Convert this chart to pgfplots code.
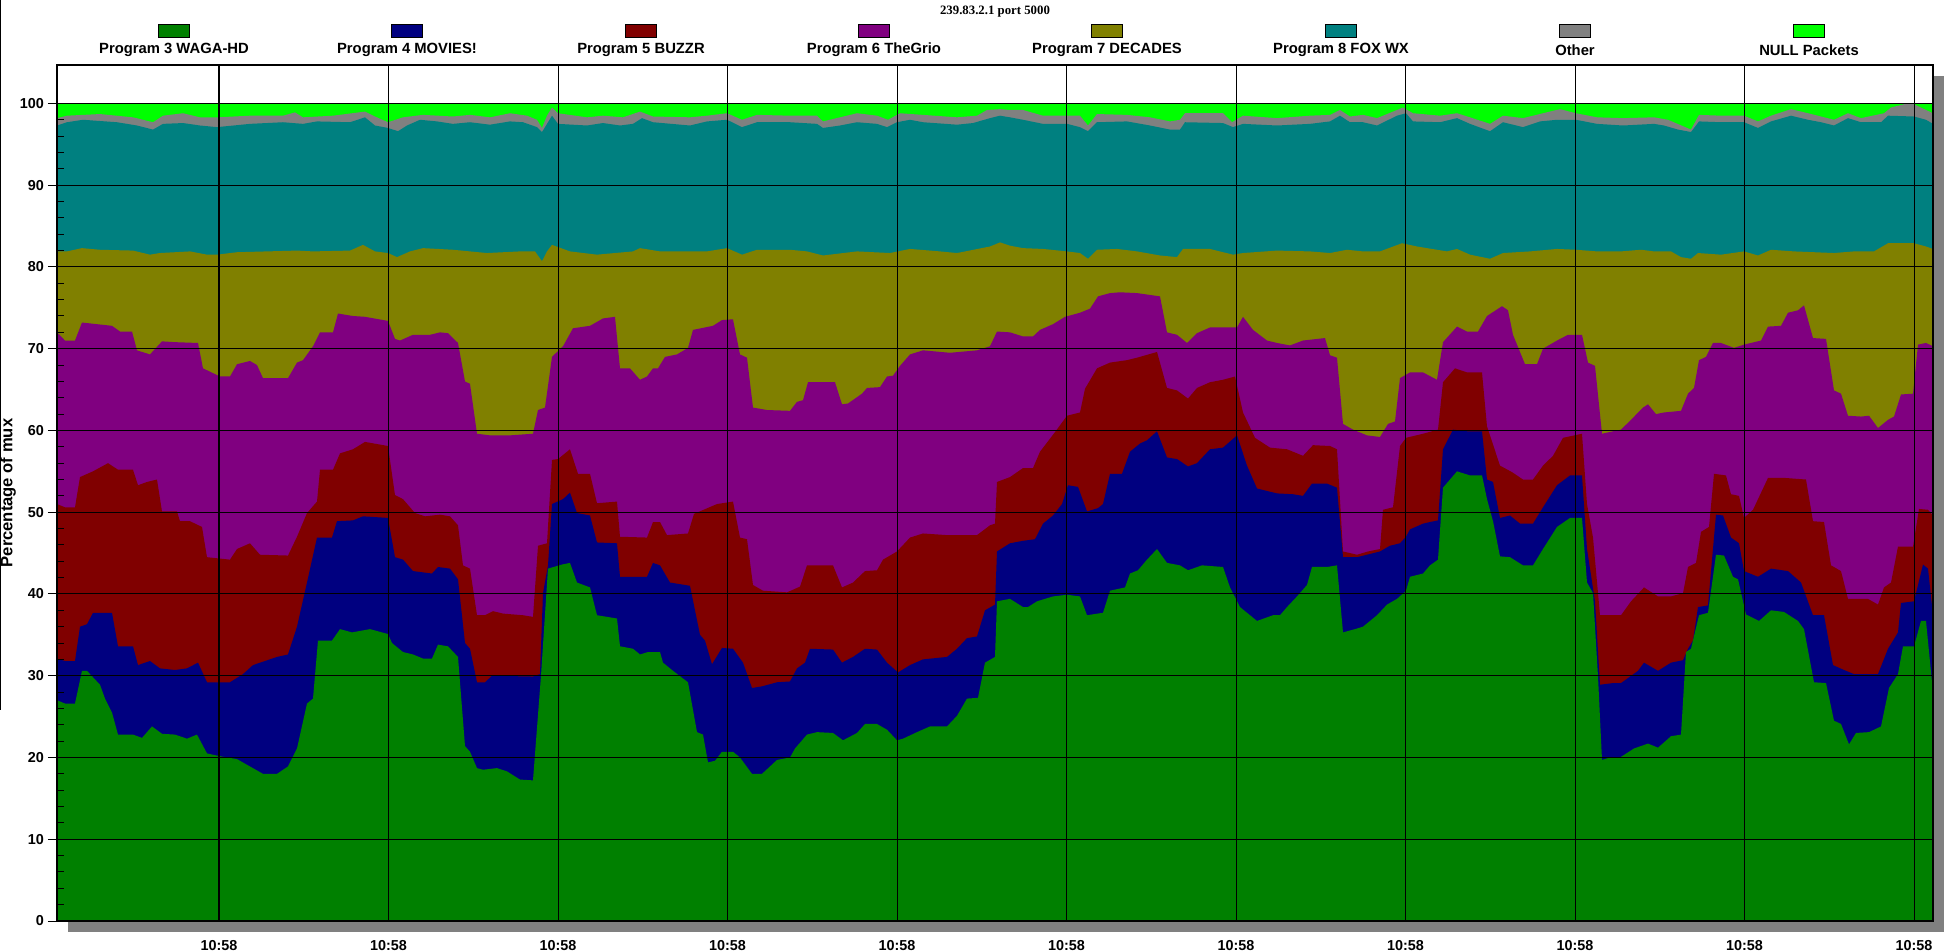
\documentclass[border=0pt]{standalone}
\usepackage{pgfplots}
\pgfplotsset{compat=1.18}
\usepackage{fontspec}
\setmainfont{Liberation Sans}
\newfontfamily\timesfont{Liberation Serif}
\definecolor{cGreen}{HTML}{008000}
\definecolor{cNavy}{HTML}{000080}
\definecolor{cMaroon}{HTML}{800000}
\definecolor{cPurple}{HTML}{800080}
\definecolor{cOlive}{HTML}{808000}
\definecolor{cTeal}{HTML}{008080}
\definecolor{cGrey}{HTML}{808080}
\definecolor{cLime}{HTML}{00FF00}
\begin{document}
\begin{tikzpicture}
\useasboundingbox (0pt,0pt) rectangle (975.5pt,475pt);
% window edge
\draw[black, line width=0.7pt] (0.4pt,475pt) -- (0.4pt,120pt);
% drop shadow of the plot area
\fill[cGrey] (34pt,9pt) rectangle (972pt,437pt);
\begin{axis}[
  at={(28.5pt,14.5pt)}, anchor=south west,
  scale only axis, width=938pt, height=428pt,
  xmin=57, xmax=1933, ymin=0, ymax=104.7,
  axis background/.style={fill=white},
  axis on top,
  axis line style={black, line width=0.8pt},
  xtick={219,388.5,558,727.5,897,1066.5,1236,1405.5,1575,1744.5,1914},
  xticklabels={10:58,10:58,10:58,10:58,10:58,10:58,10:58,10:58,10:58,10:58,10:58},
  ytick={0,10,...,100},
  minor y tick num=4,
  grid=major,
  major grid style={black, line width=0.5pt},
  tick pos=left,
  tick align=outside,
  major tick length=4.5pt,
  minor tick length=3.5pt,
  x tick style={draw=none},
  y tick style={black, line width=0.5pt},
  every minor tick/.append style={xshift=3.5pt},
  /pgf/number format/assume math mode=true,
  ticklabel style={font=\bfseries\fontsize{7.2}{8}\selectfont},
  xticklabel style={yshift=-1.5pt},
  yticklabel style={xshift=1.5pt},
  ylabel={Percentage of mux},
  every axis y label/.style={at={(axis description cs:0,0.5)}, xshift=-24.5pt, rotate=90, anchor=center, font=\bfseries\fontsize{8.3}{9}\selectfont},
]
% NULL Packets (top of stack = 100)
\addplot[fill=cLime, draw=none] coordinates {(57,100) (1933,100)} \closedcycle;
% Other (cumulative top)
\addplot[fill=cGrey, draw=none] coordinates {(57,98.2) (67,98.5) (100,98.7) (133,98.3) (153,97.7) (163,98.5) (183,98.8) (200,98.3) (217,98.3) (250,98.5) (283,98.5) (295,98.9) (303,98.3) (333,98.5) (365,99.0) (375,98.4) (388,97.7) (403,98.3) (423,98.6) (453,98.4) (470,98.6) (490,98.3) (510,98.8) (527,98.5) (537,98.0) (542,97.0) (547,98.5) (552,99.5) (558,98.8) (587,98.3) (603,98.5) (623,98.3) (640,99.0) (653,98.4) (690,98.3) (707,98.5) (727,98.8) (742,98.0) (757,98.6) (790,98.5) (817,98.5) (823,97.8) (840,98.3) (857,98.8) (877,98.5) (888,98.0) (900,98.8) (923,98.6) (957,98.3) (977,98.5) (987,99.2) (1000,99.3) (1010,99.2) (1023,99.2) (1043,98.5) (1080,98.5) (1088,97.3) (1097,98.7) (1127,98.6) (1150,98.3) (1170,97.8) (1180,98.0) (1185,98.8) (1223,98.8) (1232,97.7) (1243,98.5) (1277,98.2) (1310,98.5) (1330,98.6) (1340,99.2) (1350,98.4) (1363,98.6) (1377,98.2) (1397,99.2) (1403,99.5) (1413,98.8) (1440,98.5) (1457,98.8) (1470,98.3) (1490,97.5) (1503,98.5) (1523,98.2) (1543,98.8) (1560,99.3) (1576,98.8) (1597,98.3) (1623,98.2) (1654,98.3) (1668,98.0) (1691,96.8) (1699,98.6) (1721,98.5) (1744,98.5) (1758,97.8) (1771,98.5) (1791,99.3) (1808,98.8) (1834,98.0) (1848,98.8) (1861,98.2) (1884,98.8) (1891,99.5) (1904,99.9) (1914,99.9) (1926,99.2) (1933,98.8)} \closedcycle;
% Program 8 FOX WX (cumulative top)
\addplot[fill=cTeal, draw=none] coordinates {(57,97.3) (67,97.7) (83,98.0) (117,97.7) (137,97.3) (153,96.8) (163,97.5) (183,97.6) (200,97.3) (217,97.1) (250,97.5) (283,97.7) (303,97.5) (317,97.8) (350,97.7) (365,98.3) (375,97.3) (388,97.0) (398,96.6) (407,97.3) (420,98.0) (437,97.8) (453,97.5) (470,97.7) (490,97.4) (510,97.8) (523,97.7) (537,97.1) (542,96.5) (547,97.5) (552,98.5) (558,97.5) (587,97.3) (603,97.6) (620,97.3) (633,97.5) (642,98.2) (653,97.7) (690,97.3) (707,97.8) (727,98.0) (742,97.1) (757,97.7) (790,97.7) (817,97.5) (823,97.0) (840,97.3) (857,97.7) (877,97.5) (887,97.1) (897,97.7) (910,98.0) (923,97.7) (957,97.4) (973,97.6) (990,98.2) (1000,98.5) (1010,98.3) (1023,98.0) (1043,97.5) (1067,97.5) (1080,97.1) (1088,96.6) (1097,97.7) (1127,97.8) (1150,97.3) (1170,96.8) (1180,96.8) (1185,97.7) (1223,97.6) (1233,97.1) (1243,97.5) (1277,97.3) (1310,97.5) (1330,97.8) (1340,98.5) (1350,97.7) (1363,97.7) (1377,97.3) (1397,98.5) (1406,98.8) (1413,97.8) (1440,97.7) (1457,98.2) (1470,97.5) (1490,96.6) (1503,97.7) (1523,97.1) (1540,97.8) (1557,98.0) (1576,98.0) (1597,97.5) (1623,97.3) (1654,97.5) (1664,97.3) (1678,96.8) (1691,96.5) (1699,97.8) (1721,97.7) (1744,97.7) (1758,97.0) (1771,97.8) (1791,98.5) (1808,98.0) (1821,97.7) (1834,97.3) (1848,98.2) (1861,97.7) (1881,97.7) (1888,98.5) (1914,98.4) (1926,98.0) (1933,97.5)} \closedcycle;
% Program 7 DECADES (cumulative top)
\addplot[fill=cOlive, draw=none] coordinates {(57,81.9) (67,81.9) (82,82.3) (100,82.1) (133,82.0) (150,81.5) (160,81.7) (190,81.9) (207,81.5) (217,81.5) (237,81.8) (297,82.0) (313,81.9) (350,82.0) (363,82.7) (375,81.9) (388,81.7) (397,81.2) (410,81.9) (423,82.3) (453,82.1) (487,81.7) (520,81.9) (535,81.9) (542,80.7) (547,81.9) (552,82.7) (570,81.9) (597,81.5) (633,81.9) (640,82.3) (660,81.9) (707,81.9) (727,82.3) (742,81.5) (757,82.1) (790,82.1) (807,81.9) (823,81.4) (857,81.9) (890,81.7) (910,82.2) (940,81.9) (957,81.7) (990,82.5) (1000,83.0) (1010,82.6) (1023,82.3) (1043,82.2) (1067,81.9) (1080,81.7) (1088,81.0) (1097,82.1) (1117,82.2) (1137,81.9) (1160,81.4) (1177,81.2) (1183,82.2) (1210,82.2) (1233,81.5) (1243,81.7) (1277,82.0) (1310,81.9) (1330,81.7) (1347,82.1) (1363,81.9) (1380,81.9) (1402,82.9) (1417,82.5) (1447,81.9) (1457,82.2) (1470,81.5) (1490,81.0) (1503,81.7) (1530,81.9) (1557,82.2) (1576,82.1) (1597,81.9) (1621,81.9) (1641,82.1) (1654,81.9) (1671,81.9) (1681,81.2) (1691,81.0) (1698,81.7) (1721,81.5) (1744,81.9) (1758,81.4) (1771,82.1) (1794,81.9) (1834,81.7) (1854,81.9) (1874,81.9) (1888,82.9) (1914,82.9) (1926,82.5) (1933,82.2)} \closedcycle;
% Program 6 TheGrio (cumulative top)
\addplot[fill=cPurple, draw=none] coordinates {(57,72.0) (65,71.0) (75,71.0) (82,73.2) (97,73.0) (112,72.8) (120,72.1) (132,72.1) (137,69.8) (150,69.3) (162,70.9) (175,70.8) (198,70.7) (203,67.6) (220,66.6) (230,66.6) (237,68.1) (250,68.5) (257,68.0) (263,66.4) (288,66.4) (297,68.3) (303,68.6) (313,70.3) (320,72.0) (333,72.0) (338,74.3) (353,74.0) (365,73.9) (388,73.4) (395,71.2) (400,71.0) (413,71.7) (430,71.7) (440,72.0) (448,71.9) (458,70.7) (465,66.0) (470,65.7) (477,59.6) (490,59.4) (510,59.4) (533,59.6) (538,62.5) (545,62.8) (552,69.0) (563,70.3) (573,72.5) (590,72.8) (603,73.7) (615,73.9) (620,67.6) (630,67.6) (640,66.2) (647,66.6) (653,67.6) (658,67.6) (665,69.0) (677,69.3) (688,70.1) (693,72.3) (713,72.8) (722,73.5) (733,73.6) (740,69.3) (747,68.9) (753,62.8) (767,62.5) (790,62.4) (797,63.5) (803,63.7) (808,65.9) (835,65.9) (842,63.2) (848,63.3) (862,64.5) (867,65.2) (880,65.3) (887,66.6) (893,66.7) (900,67.9) (910,69.3) (923,69.8) (950,69.5) (977,69.8) (990,70.3) (997,72.1) (1010,72.0) (1023,71.5) (1033,71.5) (1040,72.3) (1053,73.0) (1065,73.9) (1080,74.4) (1090,74.9) (1098,76.4) (1110,76.8) (1120,76.9) (1137,76.8) (1160,76.4) (1167,72.0) (1177,71.7) (1187,70.7) (1197,71.9) (1210,72.6) (1237,72.6) (1243,73.9) (1253,72.3) (1267,71.0) (1277,70.7) (1290,70.4) (1303,71.0) (1325,71.3) (1330,69.2) (1337,68.9) (1343,60.8) (1353,60.1) (1367,59.4) (1380,59.2) (1388,60.8) (1395,61.1) (1400,66.4) (1410,67.1) (1423,67.1) (1437,66.2) (1443,70.8) (1457,72.7) (1467,72.1) (1478,72.1) (1487,74.0) (1502,75.2) (1508,74.7) (1513,71.7) (1525,68.1) (1537,68.1) (1543,70.0) (1557,71.0) (1568,71.7) (1582,71.7) (1588,68.3) (1595,67.9) (1602,59.6) (1613,59.9) (1621,60.1) (1631,61.3) (1643,62.8) (1648,63.2) (1656,62.0) (1664,62.2) (1681,62.4) (1688,64.5) (1694,65.2) (1699,68.6) (1706,69.0) (1713,70.7) (1721,70.7) (1734,70.1) (1744,70.5) (1761,71.0) (1768,72.7) (1781,72.8) (1788,74.4) (1798,74.7) (1804,75.3) (1813,71.3) (1826,71.2) (1834,64.9) (1841,64.5) (1848,61.8) (1861,61.7) (1869,61.8) (1878,60.3) (1888,61.3) (1894,61.7) (1901,64.4) (1913,64.5) (1918,70.5) (1926,70.7) (1933,70.3)} \closedcycle;
% Program 5 BUZZR (cumulative top)
\addplot[fill=cMaroon, draw=none] coordinates {(57,51.0) (65,50.6) (75,50.6) (80,54.3) (93,55.0) (108,56.0) (118,55.2) (133,55.2) (138,53.3) (147,53.7) (157,54.0) (162,50.1) (177,50.1) (180,48.9) (190,48.9) (202,48.2) (207,44.5) (230,44.2) (237,45.5) (250,46.2) (260,44.8) (288,44.7) (297,47.0) (307,49.9) (317,51.3) (320,55.2) (333,55.2) (340,57.2) (353,57.7) (365,58.6) (388,58.1) (395,52.1) (403,51.6) (415,49.9) (425,49.5) (440,49.7) (450,49.5) (458,48.4) (463,43.5) (470,43.1) (477,37.4) (485,37.4) (493,37.9) (503,37.6) (523,37.4) (533,37.2) (538,45.9) (547,46.2) (552,56.4) (558,56.5) (570,57.7) (578,54.7) (590,54.7) (597,51.1) (617,51.3) (620,47.0) (647,46.9) (653,48.8) (660,48.8) (667,47.2) (688,47.4) (694,49.8) (717,51.0) (733,51.3) (740,46.9) (747,46.7) (753,41.1) (763,40.4) (787,40.2) (800,40.9) (807,43.5) (833,43.5) (842,40.8) (853,41.4) (865,42.8) (877,42.9) (883,44.2) (897,45.2) (910,46.9) (923,47.4) (947,47.2) (977,47.2) (990,48.4) (995,48.6) (997,53.7) (1010,54.3) (1023,55.4) (1033,55.4) (1040,57.4) (1055,59.8) (1067,61.8) (1080,62.2) (1085,65.1) (1097,67.6) (1110,68.3) (1127,68.6) (1137,68.9) (1157,69.6) (1167,65.2) (1177,64.9) (1188,63.9) (1197,65.2) (1210,65.9) (1223,66.2) (1235,66.6) (1243,62.2) (1255,59.1) (1270,57.9) (1287,57.7) (1303,56.9) (1313,58.2) (1330,58.1) (1337,57.7) (1343,45.2) (1357,44.8) (1368,45.2) (1380,45.5) (1383,50.3) (1393,50.6) (1400,58.1) (1406,59.1) (1423,59.6) (1438,60.1) (1443,65.9) (1455,67.6) (1467,67.1) (1482,67.1) (1487,60.5) (1500,55.7) (1512,54.9) (1523,54.0) (1533,54.0) (1543,55.7) (1553,56.9) (1563,59.1) (1582,59.6) (1587,51.0) (1593,46.9) (1600,37.4) (1613,37.4) (1621,37.4) (1631,39.1) (1644,40.8) (1658,39.7) (1671,39.7) (1683,40.1) (1688,43.3) (1696,43.8) (1701,47.6) (1709,48.2) (1714,54.7) (1726,54.5) (1731,52.2) (1739,52.0) (1744,49.3) (1753,50.3) (1758,51.6) (1768,54.2) (1784,54.2) (1806,54.0) (1813,48.9) (1824,48.8) (1831,43.5) (1841,42.8) (1848,39.4) (1868,39.4) (1878,38.7) (1884,40.8) (1891,41.4) (1898,45.8) (1913,45.8) (1919,50.4) (1928,50.3) (1933,49.6)} \closedcycle;
% Program 4 MOVIES! (cumulative top)
\addplot[fill=cNavy, draw=none] coordinates {(57,32.1) (65,31.8) (75,31.8) (80,36.0) (87,36.3) (93,37.7) (112,37.7) (118,33.6) (133,33.6) (138,31.3) (150,31.8) (160,30.9) (175,30.7) (187,30.9) (198,31.6) (207,29.2) (230,29.2) (243,30.2) (253,31.3) (277,32.3) (288,32.6) (297,36.0) (307,41.4) (317,46.9) (332,46.9) (337,48.9) (353,49.0) (363,49.5) (388,49.3) (395,44.5) (403,44.2) (413,42.8) (432,42.5) (438,43.3) (450,43.1) (458,41.8) (465,34.0) (470,33.3) (477,29.2) (485,29.2) (492,30.0) (533,29.9) (540,30.2) (543,40.1) (548,43.5) (552,51.0) (563,51.6) (570,52.4) (577,49.9) (590,49.6) (597,46.3) (617,46.2) (620,42.1) (647,42.1) (653,43.8) (660,43.5) (670,41.4) (690,41.0) (700,35.0) (705,34.3) (712,31.4) (722,33.4) (733,33.3) (743,31.6) (752,28.5) (762,28.7) (777,29.2) (790,29.3) (797,30.9) (805,31.6) (810,33.3) (833,33.2) (842,31.6) (853,32.3) (865,33.3) (877,33.2) (887,31.6) (898,30.4) (910,31.3) (923,32.0) (947,32.3) (957,33.3) (967,34.6) (977,34.8) (985,38.0) (995,38.7) (997,45.2) (1010,46.2) (1023,46.5) (1035,46.7) (1043,48.6) (1053,49.6) (1062,51.0) (1068,53.3) (1078,53.1) (1087,50.1) (1098,50.5) (1103,51.0) (1110,54.7) (1122,54.7) (1130,57.4) (1140,58.4) (1147,58.8) (1157,59.9) (1167,56.7) (1177,56.5) (1188,55.6) (1197,56.0) (1210,57.7) (1223,57.9) (1237,59.4) (1247,55.7) (1257,52.9) (1277,52.3) (1293,52.2) (1303,52.0) (1312,53.5) (1327,53.5) (1337,53.0) (1343,44.5) (1357,44.5) (1367,44.8) (1380,45.2) (1390,45.9) (1400,46.2) (1406,47.0) (1410,47.9) (1423,48.6) (1430,48.8) (1438,49.0) (1443,57.7) (1453,60.1) (1467,59.9) (1482,59.9) (1487,54.0) (1493,53.7) (1500,49.3) (1510,49.6) (1520,48.6) (1533,48.6) (1543,50.6) (1557,53.3) (1570,54.5) (1582,54.5) (1587,45.5) (1595,39.1) (1600,28.9) (1613,29.1) (1621,29.1) (1638,30.6) (1644,31.6) (1658,30.6) (1671,31.6) (1683,31.9) (1688,33.3) (1693,34.3) (1698,38.4) (1708,38.6) (1711,42.8) (1716,49.7) (1723,49.6) (1731,46.9) (1739,46.2) (1744,42.8) (1758,42.1) (1771,43.1) (1788,42.8) (1801,41.4) (1813,37.4) (1824,37.4) (1833,31.3) (1844,30.7) (1854,30.2) (1878,30.2) (1888,33.3) (1898,35.3) (1901,38.9) (1914,39.1) (1923,43.6) (1928,43.1) (1933,37.4)} \closedcycle;
% Program 3 WAGA-HD
\addplot[fill=cGreen, draw=none] coordinates {(57,27.0) (65,26.6) (75,26.6) (82,30.6) (87,30.6) (100,28.9) (105,27.2) (112,25.5) (118,22.8) (133,22.8) (142,22.4) (152,23.8) (162,22.9) (175,22.8) (187,22.3) (197,22.8) (207,20.5) (218,20.2) (237,19.8) (250,18.9) (263,18.0) (277,18.0) (288,18.9) (297,21.1) (307,26.6) (313,27.2) (318,34.3) (332,34.3) (340,35.7) (352,35.3) (370,35.7) (388,35.1) (392,34.0) (403,32.9) (413,32.6) (423,32.1) (432,32.1) (438,33.8) (448,33.6) (458,32.3) (465,21.4) (470,20.7) (477,18.7) (483,18.5) (497,18.7) (507,18.3) (520,17.3) (533,17.2) (541,30.0) (548,43.1) (562,43.6) (570,43.8) (577,41.4) (590,40.8) (597,37.4) (617,37.0) (620,33.6) (633,33.3) (640,32.6) (648,32.9) (660,32.9) (663,31.6) (673,30.6) (688,29.2) (697,23.1) (703,22.8) (708,19.4) (715,19.6) (722,20.7) (733,20.7) (740,20.0) (752,18.0) (762,18.0) (777,19.7) (790,20.0) (795,21.1) (807,22.8) (817,23.1) (833,23.0) (843,22.1) (857,23.0) (865,24.1) (877,24.1) (887,23.4) (897,22.1) (903,22.3) (917,23.1) (930,23.8) (947,23.8) (957,25.1) (967,27.2) (978,27.3) (985,31.6) (995,32.3) (997,39.1) (1010,39.4) (1023,38.4) (1028,38.4) (1037,39.1) (1053,39.7) (1067,39.9) (1080,39.7) (1087,37.4) (1103,37.7) (1110,40.4) (1125,40.8) (1130,42.5) (1138,42.9) (1147,44.2) (1157,45.5) (1167,43.8) (1180,43.5) (1188,42.9) (1202,43.5) (1223,43.3) (1230,40.8) (1240,38.4) (1257,36.7) (1273,37.4) (1280,37.4) (1287,38.4) (1297,39.7) (1307,41.1) (1312,43.3) (1327,43.3) (1337,43.5) (1343,35.3) (1355,35.7) (1363,36.0) (1377,37.4) (1387,38.7) (1397,39.4) (1406,40.4) (1410,42.1) (1423,42.5) (1430,43.5) (1438,44.2) (1443,53.0) (1457,55.0) (1470,54.5) (1482,54.5) (1487,51.6) (1493,48.9) (1500,44.6) (1510,44.5) (1523,43.5) (1533,43.5) (1543,45.5) (1557,48.2) (1570,49.3) (1582,49.3) (1587,41.4) (1593,40.1) (1598,29.9) (1602,19.7) (1610,20.0) (1620,20.0) (1634,21.1) (1648,21.7) (1658,21.2) (1671,22.6) (1681,22.8) (1686,32.9) (1691,33.3) (1699,37.4) (1708,37.7) (1716,44.8) (1724,44.7) (1733,42.1) (1738,41.8) (1746,37.5) (1759,36.7) (1771,38.0) (1784,37.8) (1798,36.7) (1804,35.7) (1814,29.2) (1826,29.1) (1834,24.5) (1841,24.1) (1849,21.6) (1856,23.0) (1869,23.1) (1881,23.8) (1889,28.5) (1898,30.2) (1903,33.6) (1914,33.6) (1921,36.7) (1926,36.7) (1933,27.9)} \closedcycle;
\end{axis}
% title
\node[font=\timesfont\bfseries\fontsize{6.4}{7.5}\selectfont] at (497.5pt,469pt) {239.83.2.1 port 5000};
% legend
\foreach \cx/\col/\lab in {87/cGreen/Program 3 WAGA-HD, 203.5/cNavy/Program 4 MOVIES!, 320.5/cMaroon/Program 5 BUZZR, 437/cPurple/Program 6 TheGrio, 553.5/cOlive/Program 7 DECADES, 670.5/cTeal/Program 8 FOX WX, 787.5/cGrey/Other, 904.5/cLime/NULL Packets}{
  \filldraw[fill=\col, draw=black, line width=0.3pt] (\cx pt-7.75pt,456.5pt) rectangle (\cx pt+7.75pt,463pt);
  \node[font=\bfseries\fontsize{7.4}{8.5}\selectfont] at (\cx pt,450pt) {\lab};
}
\end{tikzpicture}
\end{document}
